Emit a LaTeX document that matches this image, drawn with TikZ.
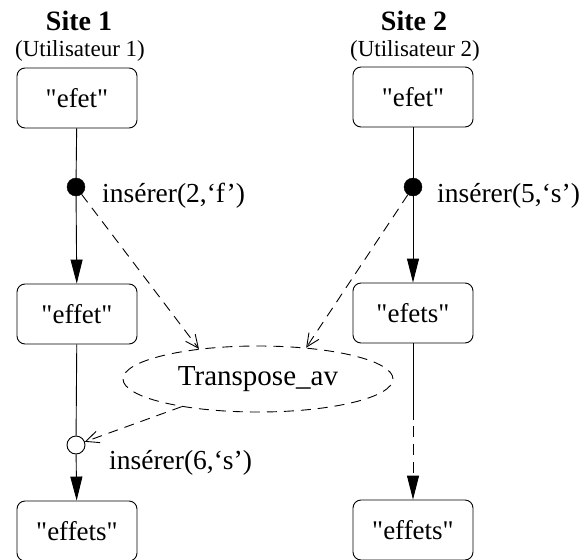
\documentclass[tikz,border=0pt]{standalone}
\usepackage{fontspec}
\setmainfont{Liberation Serif}[Ligatures=TeXOff]
\usetikzlibrary{shapes.geometric,arrows.meta}
\tikzset{
  statebox/.style={draw, rounded corners=8pt, minimum width=120pt, minimum height=60pt, inner sep=0pt, line width=0.9pt, font=\fontsize{27}{32}\selectfont},
  lbl/.style={anchor=base west, inner sep=0pt, font=\fontsize{27.5}{32}\selectfont},
  title/.style={inner sep=0pt, font=\fontsize{28}{32}\selectfont\bfseries},
  subtitle/.style={inner sep=0pt, font=\fontsize{23}{28}\selectfont},
  fulldot/.style={circle, fill=black, draw, minimum size=18pt, inner sep=0pt},
  opendot/.style={circle, draw, fill=white, minimum size=18pt, inner sep=0pt, line width=0.9pt},
  solidarrow/.style={line width=0.9pt, -{Triangle[length=24pt,width=12pt]}},
  dasharrow/.style={line width=0.9pt, dash pattern=on 10pt off 7pt, -{Straight Barb[length=13pt,width=12pt]}},
  oval/.style={ellipse, draw, dash pattern=on 10pt off 7pt, line width=0.9pt, minimum width=270pt, minimum height=66pt, inner sep=0pt, font=\fontsize{29}{32}\selectfont}
}
\begin{document}
\begin{tikzpicture}[x=1pt,y=-1pt]
\useasboundingbox (0,0) rectangle (587,560);
% titles
\node[title] (t1) at (79,21) {Site 1};
\node[title] (t2) at (414,21) {Site 2};
\node[subtitle] (s1) at (80,51) {(Utilisateur 1)};
\node[subtitle] (s2) at (415,51) {(Utilisateur 2)};
% boxes
\node[statebox] (a1) at (77,98) {"efet"};
\node[statebox] (a2) at (413,97) {"efet"};
\node[statebox] (b1) at (77,314) {"effet"};
\node[statebox] (b2) at (413,313) {"efets"};
\node[statebox] (c1) at (77,531) {"effets"};
\node[statebox] (c2) at (413,530) {"effets"};
% operation points
\node[fulldot] (d1) at (76,187) {};
\node[fulldot] (d2) at (413,187) {};
\node[opendot] (o1) at (76,445) {};
\node[lbl] (l1) at (102,202) {insérer(2,‘f’)};
\node[lbl] (l2) at (437,202) {insérer(5,‘s’)};
\node[lbl] (l3) at (109,469) {insérer(6,‘s’)};
% transpose
\node[oval] (tr) at (258,379) {Transpose\_av};
\coordinate (m2) at (413,420);
% connectors
\draw[line width=0.9pt] (a1) -- (d1);
\draw[solidarrow] (d1) -- (b1);
\draw[line width=0.9pt] (b1) -- (o1);
\draw[solidarrow] (o1) -- (c1);
\draw[line width=0.9pt] (a2) -- (d2);
\draw[solidarrow] (d2) -- (b2);
\draw[line width=0.9pt] (b2) -- (m2);
\draw[solidarrow, dash pattern=on 11pt off 7pt, dash phase=-6pt] (m2) -- (c2);
\draw[dasharrow] (d1) -- (tr.153);
\draw[dasharrow] (d2) -- (tr.33);
\draw[dasharrow] (tr) -- (o1);
\end{tikzpicture}
\end{document}
